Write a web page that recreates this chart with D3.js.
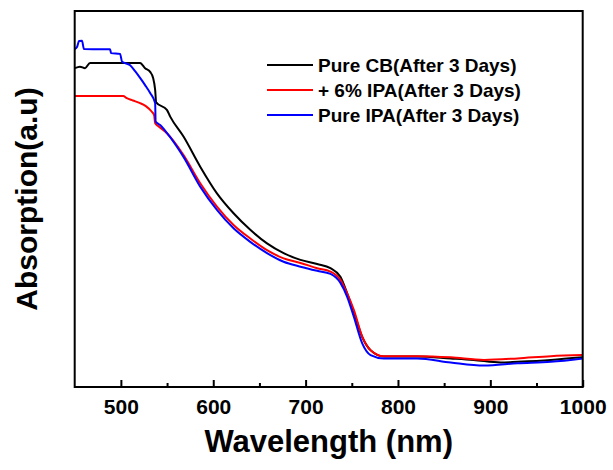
<!DOCTYPE html>
<html>
<head>
<meta charset="utf-8">
<script src="https://cdn.jsdelivr.net/npm/d3@7"></script>
<style>
  body { margin: 0; background: #fff; }
  text { font-family: Arial, "Liberation Sans", sans-serif; font-weight: bold; fill: #000; }
</style>
</head>
<body>
<div id="grafico"></div>
<script>
// Datos (unidades arbitrarias de absorcion)
var seriesNames = ["Pure CB(After 3 Days)", "+ 6% IPA(After 3 Days)", "Pure IPA(After 3 Days)"];
var seriesColors = ["#000000", "#ff0000", "#0000ff"];

var wlCB = [450.3, 455.7, 461.2, 466.6, 520.8, 526.2, 531.7, 534.9, 537.1, 538.2, 549.8, 553.4, 567.8, 585.9, 604, 622, 640.1, 658.2, 676.2, 694.4, 712.5, 726.9, 737.7, 745, 752.2, 761.3, 770.3, 784.7, 820.9, 857, 882, 911.3, 929.4, 965.5, 1000];
var absCB = [0.848, 0.852, 0.848, 0.862, 0.862, 0.848, 0.838, 0.822, 0.790, 0.757, 0.737, 0.719, 0.666, 0.586, 0.515, 0.462, 0.418, 0.382, 0.356, 0.338, 0.327, 0.316, 0.293, 0.249, 0.199, 0.133, 0.098, 0.081, 0.081, 0.076, 0.072, 0.065, 0.067, 0.072, 0.079];

var wlIPA6 = [450, 502.5, 506.4, 513, 520.8, 527, 533.5, 536, 537.1, 540.3, 549.8, 567.8, 585.9, 604, 622, 640.1, 658.2, 676.2, 694.4, 712.5, 726.9, 737.7, 745, 752.2, 761.3, 770.3, 784.7, 820.9, 857, 893.2, 929.4, 965.5, 1000];
var absIPA6 = [0.774, 0.774, 0.768, 0.762, 0.755, 0.747, 0.732, 0.723, 0.702, 0.694, 0.675, 0.617, 0.542, 0.480, 0.431, 0.395, 0.364, 0.342, 0.330, 0.316, 0.307, 0.285, 0.249, 0.205, 0.134, 0.098, 0.082, 0.082, 0.079, 0.072, 0.076, 0.082, 0.085];

var wlIPA = [450.3, 452.5, 454.7, 457.9, 460, 488.3, 489.4, 499.1, 501.3, 510, 515.4, 520.8, 526.2, 531.7, 537.1, 537.6, 542.5, 549.8, 567.8, 585.9, 604, 622, 640.1, 658.2, 676.2, 694.4, 712.5, 726.9, 737.7, 745, 752.2, 761.3, 770.3, 784.7, 820.9, 857, 893.2, 929.4, 965.5, 1000];
var absIPA = [0.899, 0.904, 0.920, 0.921, 0.899, 0.898, 0.888, 0.886, 0.865, 0.856, 0.840, 0.822, 0.803, 0.782, 0.755, 0.706, 0.697, 0.676, 0.612, 0.533, 0.471, 0.422, 0.386, 0.356, 0.333, 0.320, 0.309, 0.301, 0.277, 0.240, 0.187, 0.116, 0.085, 0.076, 0.076, 0.065, 0.057, 0.063, 0.067, 0.076];

var xTicks = [500, 600, 700, 800, 900, 1000];
var xMinorTicks = [550, 650, 750, 850, 950];

var width = 613;
var height = 470;
var margin = { left: 74.7, right: 30.3, top: 11, bottom: 83 };

var svg = d3.select("#grafico")
    .append("svg")
    .attr("width", width)
    .attr("height", height);

var x = d3.scaleLinear().domain([450, 1000]).range([margin.left, width - margin.right]);
var y = d3.scaleLinear().domain([0, 1]).range([height - margin.bottom, margin.top]);

// Juntar datos por serie
var datasets = [
    { x: wlCB, y: absCB },
    { x: wlIPA6, y: absIPA6 },
    { x: wlIPA, y: absIPA }
].map(function(s) {
    return s.x.map(function(v, i) { return [v, s.y[i]]; });
});

var line = d3.line()
    .x(function(d) { return x(d[0]); })
    .y(function(d) { return y(d[1]); })
    .curve(d3.curveMonotoneX);

datasets.forEach(function(data, i) {
    svg.append("path")
        .datum(data)
        .attr("d", line)
        .attr("fill", "none")
        .attr("stroke", seriesColors[i])
        .attr("stroke-width", 2)
        .attr("stroke-linejoin", "round");
});

// Marco
svg.append("rect")
    .attr("x", x(450))
    .attr("y", y(1))
    .attr("width", x(1000) - x(450))
    .attr("height", y(0) - y(1))
    .attr("fill", "none")
    .attr("stroke", "#000")
    .attr("stroke-width", 2);

// Eje x con ticks hacia adentro
var xAxis = svg.append("g")
    .attr("transform", "translate(0," + y(0) + ")")
    .call(d3.axisBottom(x).tickValues(xTicks).tickFormat(d3.format("d"))
        .tickSizeInner(-7).tickSizeOuter(0).tickPadding(12));
xAxis.select(".domain").remove();
xAxis.selectAll(".tick line").attr("stroke-width", 2);
xAxis.selectAll(".tick text")
    .attr("font-size", 21)
    .attr("font-family", "Arial, 'Liberation Sans', sans-serif")
    .attr("font-weight", "bold")
    .attr("fill", "#000");

svg.append("g")
    .attr("transform", "translate(0," + y(0) + ")")
    .call(d3.axisBottom(x).tickValues(xMinorTicks).tickSize(-4).tickFormat(""))
    .call(function(g) { g.select(".domain").remove(); })
    .selectAll(".tick line").attr("stroke-width", 2);

// Titulos de ejes
svg.append("text")
    .attr("x", (x(450) + x(1000)) / 2)
    .attr("y", 452)
    .attr("text-anchor", "middle")
    .attr("font-size", 31)
    .text("Wavelength (nm)");

svg.append("text")
    .attr("transform", "translate(37," + (y(0) + y(1)) / 2 + ") rotate(-90)")
    .attr("text-anchor", "middle")
    .attr("font-size", 30)
    .text("Absorption(a.u)");

// Leyenda
var legend = svg.append("g").attr("transform", "translate(267,65)");
seriesNames.forEach(function(name, i) {
    legend.append("line")
        .attr("x1", 0).attr("x2", 46)
        .attr("y1", i * 25).attr("y2", i * 25)
        .attr("stroke", seriesColors[i])
        .attr("stroke-width", 2);
    legend.append("text")
        .attr("x", 51)
        .attr("y", i * 25 + 7)
        .attr("font-size", 19)
        .text(name);
});
</script>
</body>
</html>
